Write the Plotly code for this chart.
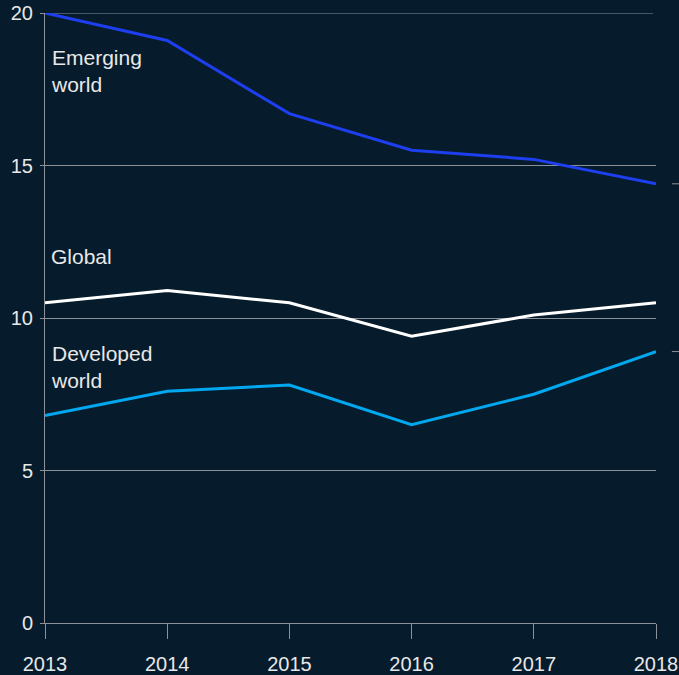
import plotly.graph_objects as go

years = [2013, 2014, 2015, 2016, 2017, 2018]
emerging = [20.0, 19.1, 16.7, 15.5, 15.2, 14.4]
global_vals = [10.5, 10.9, 10.5, 9.4, 10.1, 10.5]
developed = [6.8, 7.6, 7.8, 6.5, 7.5, 8.9]
y_ticks = [0, 5, 10, 15, 20]

# series labels and their vertical positions (data units)
label_texts = ["Emerging<br>world", "Global", "Developed<br>world"]
label_y = [18.1, 12.03, 8.38]

BG = "#061c2c"
GRID = "#8c9197"
TXT = "#e8e8e8"
FONT = "Liberation Sans, Arial, sans-serif"

fig = go.Figure()
fig.add_trace(go.Scatter(x=years, y=emerging, mode="lines",
                         line=dict(color="#1e3ff0", width=3), hoverinfo="skip"))
fig.add_trace(go.Scatter(x=years, y=global_vals, mode="lines",
                         line=dict(color="#ffffff", width=3), hoverinfo="skip"))
fig.add_trace(go.Scatter(x=years, y=developed, mode="lines",
                         line=dict(color="#00a8f0", width=3), hoverinfo="skip"))

for text, yv in zip(label_texts, label_y):
    fig.add_annotation(x=years[0], y=yv, text=text, showarrow=False, xanchor="left",
                       yanchor="middle", xshift=5, align="left", borderpad=0,
                       font=dict(family=FONT, size=21, color=TXT))

# top gridline (at the edge of the range)
fig.add_shape(type="line", xref="paper", yref="y", x0=0, x1=0.995,
              y0=y_ticks[-1], y1=y_ticks[-1], line=dict(color=GRID, width=1), layer="below")

# small end-value markers on the right edge
for v in [emerging[-1], developed[-1]]:
    fig.add_shape(type="line", xref="paper", yref="y", x0=1.026, x1=1.045, y0=v, y1=v,
                  line=dict(color=GRID, width=1))

fig.update_layout(
    width=679, height=675,
    margin=dict(l=45, r=23, t=13, b=52, autoexpand=False),
    paper_bgcolor=BG, plot_bgcolor=BG,
    showlegend=False,
    font=dict(family=FONT, size=20, color=TXT),
    xaxis=dict(range=[2013, 2018], tickvals=years, ticktext=[str(y) for y in years],
               automargin=False,
               showgrid=False, zeroline=False, showline=True, linecolor=GRID, linewidth=1,
               ticks="outside", ticklen=15, tickcolor=GRID, tickwidth=1,
               ticklabelstandoff=8,
               tickfont=dict(family=FONT, size=20, color=TXT)),
    yaxis=dict(range=[0, 20], tickvals=y_ticks, showgrid=True, gridcolor=GRID, gridwidth=1,
               automargin=False,
               zeroline=False, showline=True, linecolor=GRID, linewidth=1,
               ticks="outside", ticklen=4, tickcolor=GRID,
               ticklabelstandoff=3,
               tickfont=dict(family=FONT, size=20, color=TXT)),
)

fig.write_html("out.html", config={"displayModeBar": False},
               post_script="document.body.style.margin='0';document.body.style.background='#061c2c';")
